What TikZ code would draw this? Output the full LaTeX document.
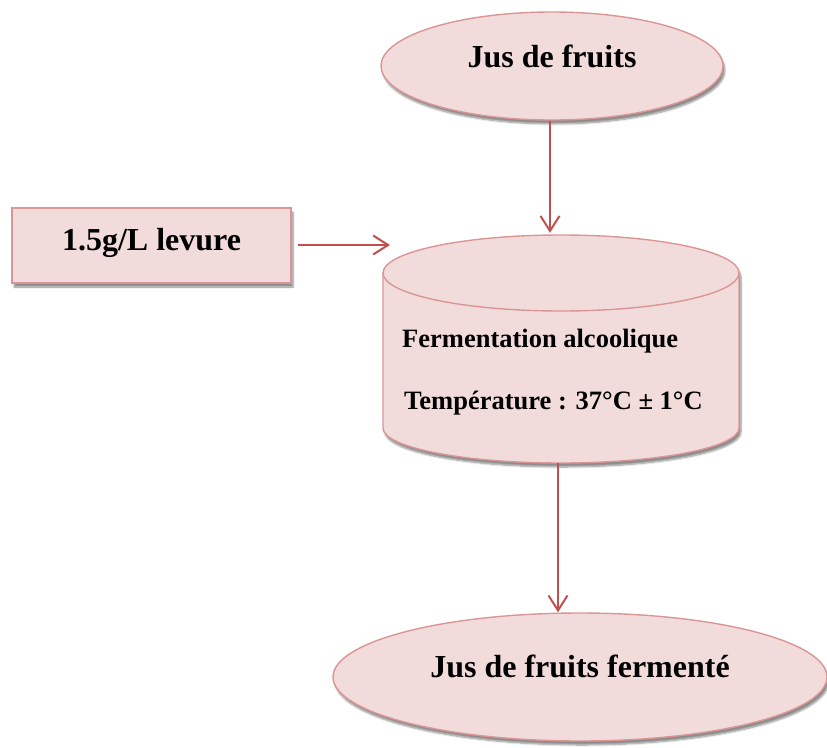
\documentclass[tikz,border=0pt]{standalone}
\usepackage{fontspec}
\setmainfont{Liberation Serif}
\usetikzlibrary{shapes.geometric,arrows.meta,shadows.blur}
\definecolor{boxfill}{HTML}{F2DCDB}
\definecolor{boxline}{HTML}{D99694}
\definecolor{arrline}{HTML}{C0504D}
\tikzset{
  shade box/.style={fill=boxfill, draw=boxline, line width=1.4pt,
    blur shadow={shadow xshift=2pt, shadow yshift=-4pt, shadow opacity=45, shadow blur steps=6}},
  bigtext/.style={font=\fontsize{32}{38}\selectfont\bfseries, inner sep=0pt},
  cyltext/.style={font=\fontsize{26.5}{32}\selectfont\bfseries, inner sep=0pt, anchor=base west},
  arr/.style={draw=arrline, line width=2pt, -{Straight Barb[length=15pt,width=19pt]}}
}
\begin{document}
\begin{tikzpicture}[x=1pt,y=-1pt]
\useasboundingbox (0,0) rectangle (827,747);

% Top ellipse
\node[shade box, bigtext, ellipse, minimum width=342pt, minimum height=108pt,
      text height=23pt, text depth=20pt] (jus) at (552,66) {Jus de fruits};

% Yeast rectangle
\node[shade box, bigtext, rectangle, minimum width=279pt, minimum height=75pt,
      text height=27pt, text depth=18pt] (lev) at (151.5,245.5) {1.5g/L levure};

% Cylinder (reference frame node)
\node[minimum width=356pt, minimum height=228pt, inner sep=0pt] (cyl) at (561,349) {};
\path[shade box] (383,273) -- (383,428)
  arc[start angle=180, end angle=360, x radius=178pt, y radius=35pt]
  -- (739,273)
  arc[start angle=0, end angle=180, x radius=178pt, y radius=38pt] -- cycle;
\draw[draw=boxline, line width=1.4pt] (383,273)
  arc[start angle=180, end angle=360, x radius=178pt, y radius=38pt];
\node[cyltext] (ferm) at (402,347) {Fermentation alcoolique};
\node[cyltext] (temp) at (404,409) {Température : 37°C ± 1°C};

% Bottom ellipse
\node[shade box, bigtext, ellipse, minimum width=494pt, minimum height=128pt,
      text height=20pt, text depth=20pt] (fer) at (580,677) {Jus de fruits fermenté};

% Connectors
\coordinate (inp) at (390,245);
\draw[arr, shorten >=2pt] ([xshift=-2pt]jus.south) -- ([xshift=-2pt]jus.south |- cyl.north);
\draw[arr, shorten <=6pt] (lev.east |- inp) -- (inp);
\draw[arr] ([xshift=-3pt]cyl.south) -- ([xshift=-3pt]cyl.south |- fer.north);
\end{tikzpicture}
\end{document}
